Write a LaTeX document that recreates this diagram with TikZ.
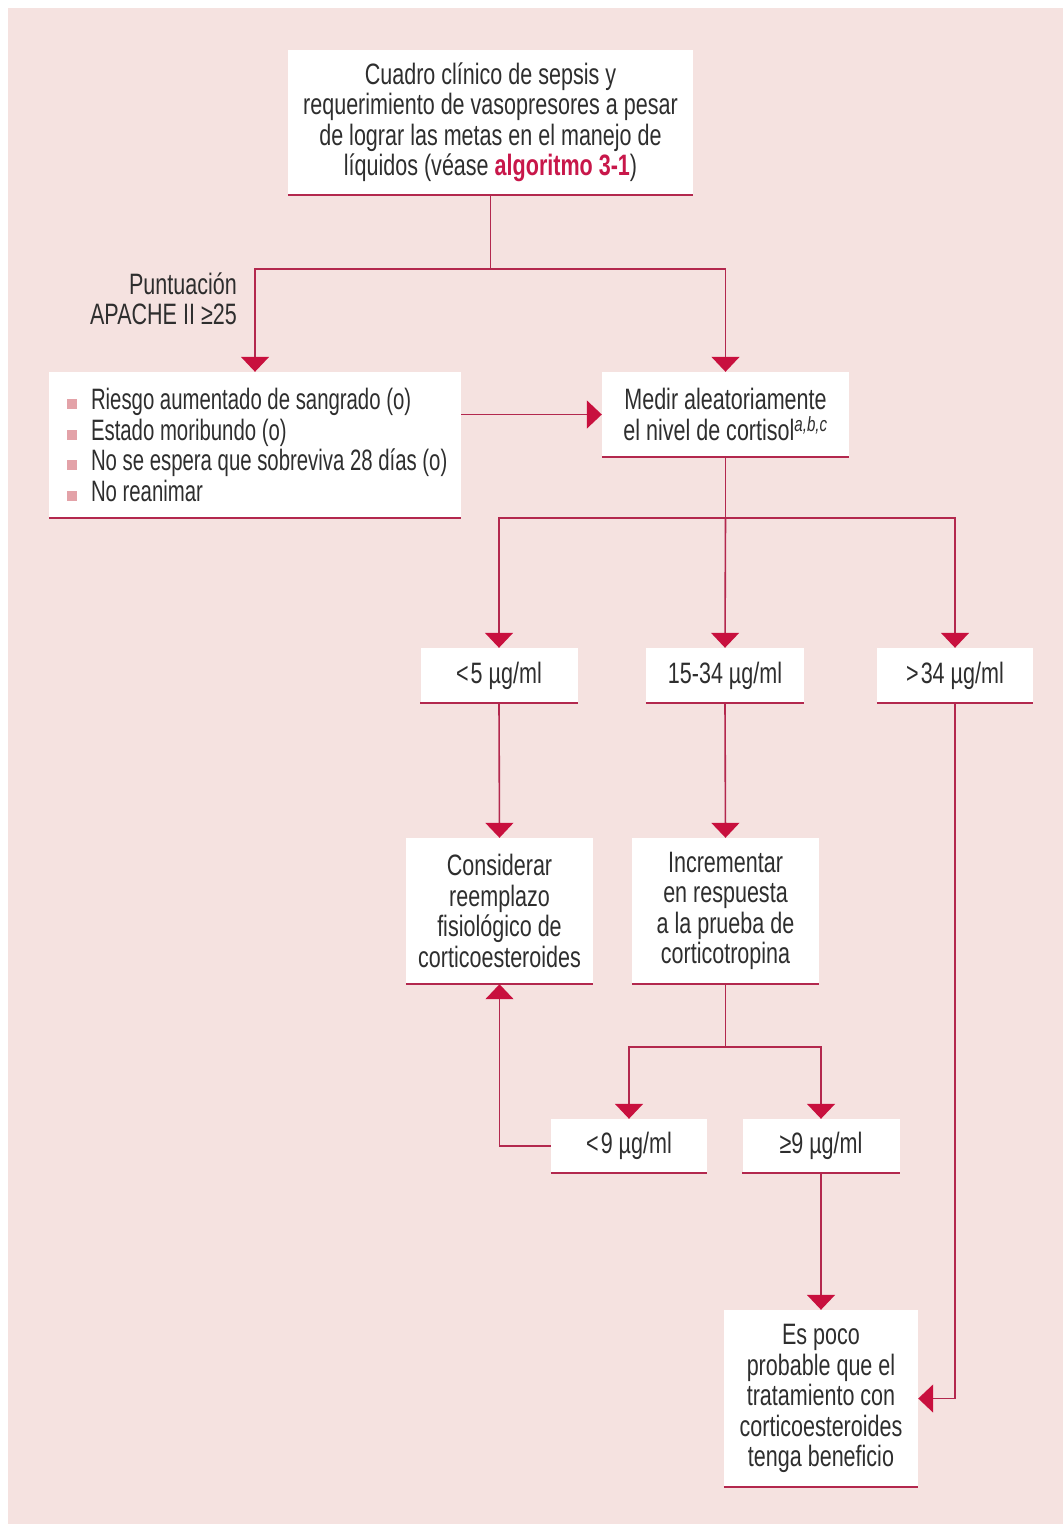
\documentclass[tikz,border=0pt]{standalone}
\usepackage{fontspec}
\setmainfont{Liberation Sans}[FakeStretch=0.73]
\newfontfamily\narrowsans{Liberation Sans}[FakeStretch=0.69]
\usetikzlibrary{arrows.meta,calc}
\definecolor{bgpink}{HTML}{F5E2E0}
\definecolor{linered}{HTML}{B3284E}
\definecolor{tipred}{HTML}{C8103E}
\definecolor{txt}{HTML}{2E2E2E}
\definecolor{bulletpink}{HTML}{E3A2A8}
\definecolor{linkred}{HTML}{C8174A}
\newcommand{\bul}[1]{\mbox{\textcolor{bulletpink}{\rule[0.5pt]{10pt}{10pt}}\hspace{14pt}#1}}
\begin{document}
\begin{tikzpicture}[x=1pt,y=-1pt,
  every node/.style={font=\fontsize{29.5}{30.5}\selectfont, text=txt},
  box/.style={fill=white, inner sep=0pt, align=center},
  conn/.style={draw=linered, line width=1.6pt, -{Triangle[width=28pt,length=15pt,color=tipred]}},
  plain/.style={draw=linered, line width=1.6pt},
  under/.style={draw=linered, line width=2pt}]
\useasboundingbox (0,0) rectangle (1063,1524);
\fill[white] (0,0) rectangle (1063,1524);
\fill[bgpink] (8,8) rectangle (1063,1524);

\node[box, minimum width=405pt, minimum height=145pt] (top) at (490.5,122.5)
  {Cuadro clínico de sepsis y\\requerimiento de vasopresores a pesar\\de lograr las metas en el manejo de\\líquidos (véase \textcolor{linkred}{\bfseries algoritmo 3-1})};
\node[anchor=east, align=right, inner sep=0pt] (apache) at (237,299) {Puntuación\\APACHE II ≥25};
\node[box, align=flush left, minimum width=412pt, minimum height=146pt, text width=376pt, inner xsep=18pt,
      font=\fontsize{29.5}{30.5}\narrowsans] (risk) at (255,445)
  {\bul{Riesgo aumentado de sangrado (o)}\\\bul{Estado moribundo (o)}\\\bul{No se espera que sobreviva 28 días (o)}\\\bul{No reanimar}};
\node[box, minimum width=247pt, minimum height=85pt] (medir) at (725.5,414.5)
  {Medir aleatoriamente\\el nivel de cortisol\textsuperscript{\itshape a,b,c}};
\node[box, minimum width=157pt, minimum height=55pt] (lt5) at (499,675.5) {<\kern2pt5 µg/ml};
\node[box, minimum width=158pt, minimum height=55pt] (mid) at (725,675.5) {15-34 µg/ml};
\node[box, minimum width=156pt, minimum height=55pt] (gt34) at (955,675.5) {>\kern2pt34 µg/ml};
\node[box, minimum width=187pt, minimum height=146pt] (consider) at (499.5,911)
  {Considerar\\reemplazo\\fisiológico de\\corticoesteroides};
\node[box, minimum width=187pt, minimum height=146pt] (incr) at (725.5,911)
  {Incrementar\\en respuesta\\a la prueba de\\corticotropina};
\node[box, minimum width=156pt, minimum height=54pt] (lt9) at (629,1146) {<\kern2pt9 µg/ml};
\node[box, minimum width=157pt, minimum height=54pt] (ge9) at (821,1146) {≥9 µg/ml};
\node[box, minimum width=194pt, minimum height=177pt] (espoco) at (821,1398.5)
  {Es poco\\probable que el\\tratamiento con\\corticoesteroides\\tenga beneficio};

\foreach \n in {top,risk,medir,lt5,mid,gt34,consider,incr,lt9,ge9,espoco}
  \draw[under] (\n.south west) -- (\n.south east);

\draw[plain] (top.south) -- ++(0,74) coordinate (s1);
\draw[conn] (s1) -| (risk.north);
\draw[conn] (s1) -| (medir.north);
\draw[conn] (risk.east |- medir.west) -- (medir.west);
\draw[plain] (medir.south) -- ++(0,61) coordinate (s2);
\draw[conn] (s2) -| (lt5.north);
\draw[conn] (s2) -- (mid.north);
\draw[conn] (s2) -| (gt34.north);
\draw[conn] (lt5.south) -- (consider.north);
\draw[conn] (mid.south) -- (incr.north);
\draw[plain] (incr.south) -- ++(0,63) coordinate (s3);
\draw[conn] (s3) -| (lt9.north);
\draw[conn] (s3) -| (ge9.north);
\draw[conn] (lt9.west) -| (consider.south);
\draw[conn] (ge9.south) -- (espoco.north);
\draw[conn] (gt34.south) |- (espoco.east);
\end{tikzpicture}
\end{document}
